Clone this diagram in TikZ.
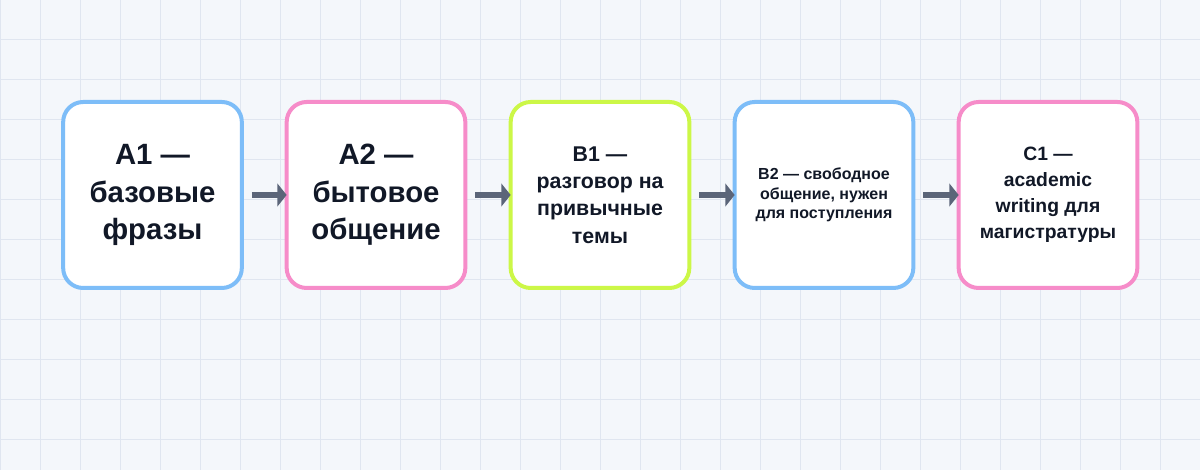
\documentclass[tikz,border=0pt]{standalone}
\usepackage{fontspec}
\setmainfont{Liberation Sans}
\usepackage{tikz}
\usetikzlibrary{arrows.meta}

\definecolor{canvas}{HTML}{F4F7FB}
\definecolor{gridcol}{HTML}{E0E6F0}
\definecolor{skyline}{HTML}{7DBDF8}
\definecolor{rosy}{HTML}{F68CC9}
\definecolor{lime}{HTML}{CCF747}
\definecolor{slate}{HTML}{5B6579}
\definecolor{ink}{HTML}{111827}

\tikzset{
	gridline/.style={gridcol, line width=0.75pt},
	stage/.style={draw, fill=white, line width=3pt, rounded corners=15pt,
		minimum width=134pt, minimum height=139.5pt, align=center,
		text=ink, font=\bfseries},
	flow/.style={slate, line width=4.5pt, -{Triangle[length=7pt,width=17pt]},
		shorten <=6pt, shorten >=-1.5pt}
}

\begin{document}
\begin{tikzpicture}[x=0.75pt, y=0.75pt]
	\useasboundingbox (0,0) rectangle (1200,470);
	\fill[canvas] (0,0) rectangle (1200,470);
	\foreach \gx in {0,40,...,1200} \draw[gridline] (\gx,0) -- (\gx,470);
	\foreach \gy in {30,70,...,470} \draw[gridline] (0,\gy) -- (1200,\gy);
	\node[stage, draw=skyline, font=\bfseries\fontsize{22pt}{28pt}\selectfont] (a1) at (152.5,275) {A1 —\\базовые\\фразы};
	\node[stage, draw=rosy, font=\bfseries\fontsize{22pt}{28pt}\selectfont] (a2) at (376,275) {A2 —\\бытовое\\общение};
	\node[stage, draw=lime, font=\bfseries\fontsize{16pt}{20.5pt}\selectfont] (b1) at (600,275) {B1 —\\разговор на\\привычные\\темы};
	\node[stage, draw=skyline, font=\bfseries\fontsize{12pt}{14.75pt}\selectfont] (b2) at (824,275) {B2 — свободное\\общение, нужен\\для поступления};
	\node[stage, draw=rosy, font=\bfseries\fontsize{14.5pt}{19.5pt}\selectfont] (c1) at (1048,275) {C1 —\\academic\\writing для\\магистратуры};
	\draw[flow] (a1) -- (a2);
	\draw[flow] (a2) -- (b1);
	\draw[flow] (b1) -- (b2);
	\draw[flow] (b2) -- (c1);
\end{tikzpicture}
\end{document}
